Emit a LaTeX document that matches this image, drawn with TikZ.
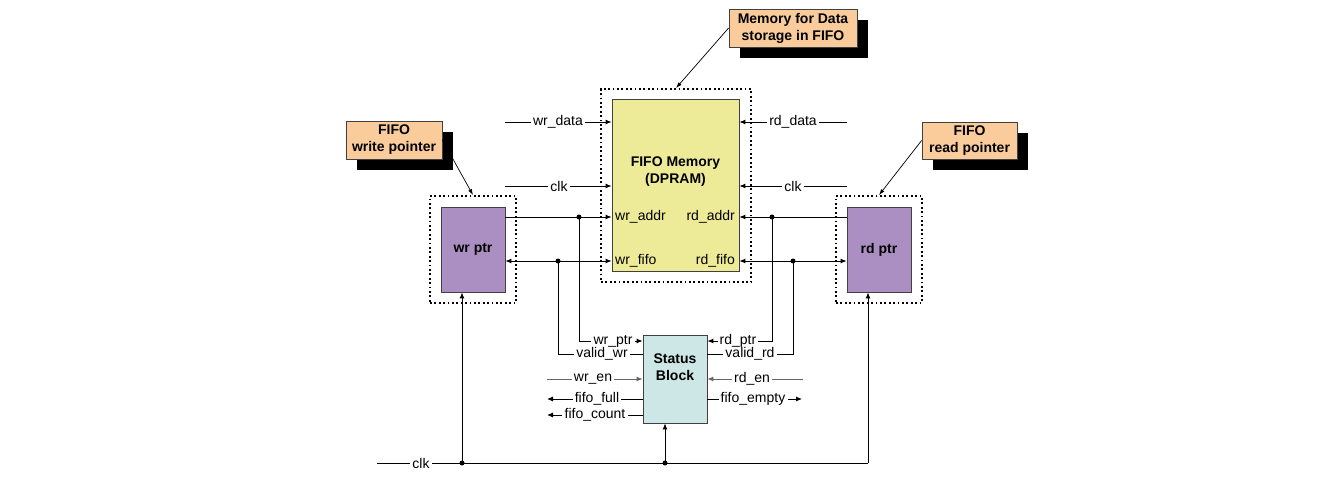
\documentclass[tikz,border=0pt]{standalone}
\usepackage{fontspec}
\setmainfont{Liberation Sans}
\usetikzlibrary{arrows.meta,shadows}

\definecolor{callfill}{RGB}{250,204,156}
\definecolor{memfill}{RGB}{238,235,152}
\definecolor{ptrfill}{RGB}{172,143,194}
\definecolor{statfill}{RGB}{205,230,230}

\tikzset{
	sig/.style={line width=0.9pt},
	siggray/.style={sig, draw=black!60},
	arr/.style={sig, -{Latex[length=6pt,width=5pt]}},
	dblarr/.style={sig, {Latex[length=6pt,width=5pt]}-{Latex[length=6pt,width=5pt]}},
	callarr/.style={line width=0.7pt, -{Latex[length=6pt,width=4pt]}},
	junction/.style={circle, fill=black, inner sep=0pt, minimum size=5pt},
	frame/.style={draw, line width=1.8pt, dash pattern=on 1.8pt off 2.6pt, inner sep=0pt},
	block/.style={draw=black!75, line width=0.8pt, inner sep=0pt, font=\fontsize{14}{17}\selectfont\bfseries},
	callout/.style={block, fill=callfill, align=center,
		drop shadow={shadow xshift=11pt, shadow yshift=-11pt, fill=black, opacity=1}},
}

\begin{document}
\begin{tikzpicture}[x=1pt,y=-1pt]
	\tikzset{every node/.append style={font=\fontsize{14}{17}\selectfont, inner sep=2pt}}
	\useasboundingbox (0,0) rectangle (1332,490);

	% dotted frames
	\node[frame, minimum width=150pt, minimum height=193pt] (memframe) at (676,185.5) {};
	\node[frame, minimum width=86pt, minimum height=107pt] (wrframe) at (473,249.5) {};
	\node[frame, minimum width=86pt, minimum height=107pt] (rdframe) at (879,249.5) {};

	% blocks
	\node[block, fill=memfill, minimum width=127pt, minimum height=172pt] (mem) at (675.5,185) {};
	\node[font=\fontsize{14}{17}\selectfont\bfseries, align=center] (memtxt) at (675.5,171.5) {FIFO Memory\\(DPRAM)};
	\node[block, fill=ptrfill, minimum width=64pt, minimum height=85pt] (wrptr) at (473,249.5) {wr ptr};
	\node[block, fill=ptrfill, minimum width=64pt, minimum height=85pt] (rdptr) at (879,249.5) {rd ptr};
	\node[block, fill=statfill, minimum width=64pt, minimum height=88pt] (status) at (675,379) {};
	\node[font=\fontsize{14}{17}\selectfont\bfseries, align=center] (stattxt) at (675,367.5) {Status\\Block};

	% callouts
	\node[callout, minimum width=128pt, minimum height=38pt] (memcall) at (793,28) {Memory for Data\\storage in FIFO};
	\node[callout, minimum width=96pt, minimum height=38pt] (wrcall) at (394,140) {FIFO\\write pointer};
	\node[callout, minimum width=95pt, minimum height=37pt] (rdcall) at (969.5,140.5) {FIFO\\read pointer};
	\draw[callarr] (memcall.west) -- (memframe.north);
	\draw[callarr] (wrcall.east) -- (wrframe.north);
	\draw[callarr] (rdcall.west) -- (rdframe.north);

	% memory ports
	\node[anchor=west, inner sep=0pt] (waddr) at (615,217) {wr\_addr};
	\node[anchor=east, inner sep=0pt] (raddr) at (735,217) {rd\_addr};
	\node[anchor=west, inner sep=0pt] (wfifo) at (615,261) {wr\_fifo};
	\node[anchor=east, inner sep=0pt] (rfifo) at (735,261) {rd\_fifo};

	% junctions and free ends
	\coordinate (wa) at (579,217);
	\coordinate (wf) at (558,261);
	\coordinate (ra) at (772,217);
	\coordinate (rf) at (793,261);
	\coordinate (ck) at (462,463);
	\coordinate (cs) at (665,463);
	\coordinate (cr) at (868,463);
	\coordinate (ckin) at (377,463);
	\coordinate (wdin) at (505,122);
	\coordinate (rdin) at (847,122);
	\coordinate (clkl) at (505,186);
	\coordinate (clkr) at (847,186);
	\coordinate (wein) at (547,379);
	\coordinate (ffout) at (547,399);
	\coordinate (fcout) at (547,415);
	\coordinate (rein) at (803,379);
	\coordinate (feout) at (802,399);

	% data and clock into memory
	\node (wdl) at (558,122) {wr\_data};
	\draw[sig] (wdin) -- (wdl);
	\draw[arr] (wdl) -- (mem.west |- wdl);
	\node (rdl) at (793,122) {rd\_data};
	\draw[sig] (rdin) -- (rdl);
	\draw[arr] (rdl) -- (mem.east |- rdl);
	\node (ckll) at (559,186) {clk};
	\draw[sig] (clkl) -- (ckll);
	\draw[arr] (ckll) -- (mem.west |- ckll);
	\node (ckrl) at (793,186) {clk};
	\draw[sig] (clkr) -- (ckrl);
	\draw[arr] (ckrl) -- (mem.east |- ckrl);

	% pointers to memory
	\draw[arr] (wrptr.east |- wa) -- (mem.west |- wa);
	\draw[dblarr] (wrptr.east |- wf) -- (mem.west |- wf);
	\draw[arr] (rdptr.west |- ra) -- (mem.east |- ra);
	\draw[dblarr] (mem.east |- rf) -- (rdptr.west |- rf);

	% status block, write side
	\node (wpl) at (613,341) {wr\_ptr};
	\draw[sig] (wa) |- (wpl);
	\draw[arr] (wpl) -- (status.west |- wpl);
	\node (vwl) at (602,354) {valid\_wr};
	\draw[sig] (wf) |- (vwl);
	\draw[sig] (vwl) -- (status.west |- vwl);
	\node (wel) at (593,379) {wr\_en};
	\draw[siggray] (wein) -- (wel);
	\draw[arr, draw=black!60] (wel) -- (status.west |- wel);
	\node (ffl) at (597,399) {fifo\_full};
	\draw[sig] (status.west |- ffl) -- (ffl);
	\draw[arr] (ffl) -- (ffout);
	\node (fcl) at (595,415) {fifo\_count};
	\draw[sig] (status.west |- fcl) -- (fcl);
	\draw[arr] (fcl) -- (fcout);

	% status block, read side
	\node (rpl) at (738,341) {rd\_ptr};
	\draw[sig] (ra) |- (rpl);
	\draw[arr] (rpl) -- (status.east |- rpl);
	\node (vrl) at (750,354) {valid\_rd};
	\draw[sig] (rf) |- (vrl);
	\draw[sig] (vrl) -- (status.east |- vrl);
	\node (rel) at (752,379) {rd\_en};
	\draw[siggray] (rein) -- (rel);
	\draw[arr, draw=black!60] (rel) -- (status.east |- rel);
	\node (fel) at (753,399) {fifo\_empty};
	\draw[sig] (status.east |- fel) -- (fel);
	\draw[arr] (fel) -- (feout);

	% clock bus
	\node (ckb) at (421,463) {clk};
	\draw[sig] (ckin) -- (ckb);
	\draw[sig] (ckb) -- (cr);
	\draw[arr] (ck) -- (wrptr.south -| ck);
	\draw[arr] (cs) -- (status.south -| cs);
	\draw[arr] (cr) -- (rdptr.south -| cr);

	\foreach \j in {wa,wf,ra,rf,ck,cs}
		\node[junction] at (\j) {};
\end{tikzpicture}
\end{document}
